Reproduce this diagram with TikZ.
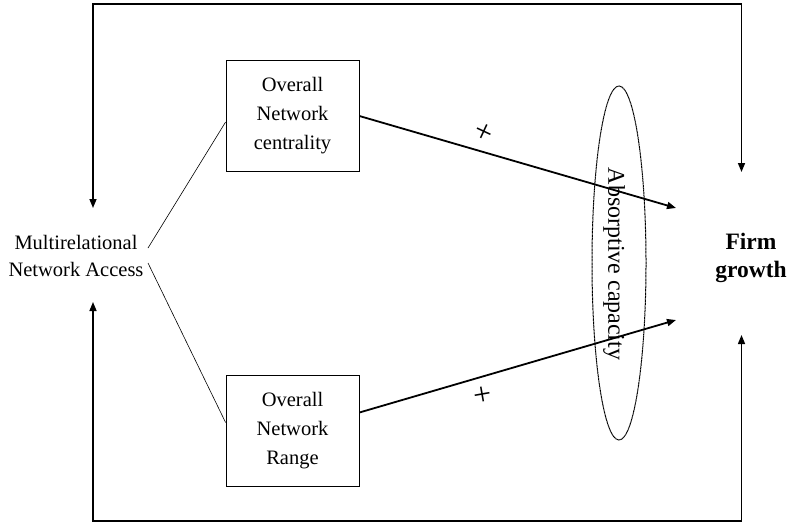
\documentclass[tikz,border=0pt]{standalone}
\usepackage{fontspec}
\setmainfont{Liberation Serif}
\usetikzlibrary{arrows.meta,shapes.geometric}

\begin{document}
\begin{tikzpicture}[
  x = 1pt, y = -1pt,
  factor/.style = {
    draw,
    line width = 0.8pt,
    align = center,
    minimum width = 133pt,
    minimum height = 111pt,
    inner sep = 2pt,
    font = \fontsize{20.5}{29}\selectfont,
  },
  caption/.style = {
    align = center,
    inner sep = 2pt,
    font = \fontsize{20.5}{27}\selectfont,
  },
  sign/.style = {
    inner sep = 0pt,
    font = \fontsize{32}{32}\selectfont,
  },
  tip/.style = {
    -{Triangle[length = 9pt, width = 7pt]}
  },
  effect/.style = {
    tip,
    line width = 1.8pt
  },
  feedback/.style = {
    line width = 1.5pt
  }
]
  \useasboundingbox (0, 0) rectangle (791, 523);

  \node[caption] (access) at (76, 256) {Multirelational\\Network Access};
  \node[factor] (central) at (292.5, 116) {Overall\\Network\\centrality};
  \node[factor] (range) at (292.5, 430.5) {Overall\\Network\\Range};
  \node[caption, font = \fontsize{23.5}{28}\bfseries] (growth) at (751, 258) {Firm\\growth};

  \node[ellipse, draw, dash pattern = on 1pt off 0.4pt, line width = 1pt,
        minimum width = 54pt, minimum height = 354pt] (absorb) at (619, 263) {};
  \node[rotate = -90, inner sep = 0pt, font = \fontsize{24}{24}\selectfont]
    (absorbtext) at (614, 264) {Absorptive capacity};

  % free ends
  \coordinate (accessU) at (148, 248);
  \coordinate (accessD) at (148, 263);
  \coordinate (tipU) at (676, 208);
  \coordinate (tipD) at (676, 320);
  \coordinate (accessT) at (93, 208);
  \coordinate (accessB) at (93, 302);
  \coordinate (growthT) at (741.5, 172);
  \coordinate (growthB) at (741.5, 335);
  \coordinate (loopT) at (400, 4);
  \coordinate (loopB) at (400, 521);

  \draw[line width = 0.6pt] (accessU) -- ([yshift = -6pt]central.west);
  \draw[line width = 0.6pt] (accessD) -- ([yshift = 8pt]range.west);

  \draw[effect] (central.east) -- (tipU);
  \draw[effect] ([yshift = 18pt]range.east) -- (tipD);

  \node[sign, rotate = -25] (plusU) at (483, 133) {+};
  \node[sign, rotate = 10] (plusD) at (483, 396) {+};

  \draw[feedback, tip] (loopT) -| (accessT);
  \draw[feedback, tip] (loopT) -| (growthT);
  \draw[feedback, tip] (loopB) -| (accessB);
  \draw[feedback, tip] (loopB) -| (growthB);
\end{tikzpicture}
\end{document}
